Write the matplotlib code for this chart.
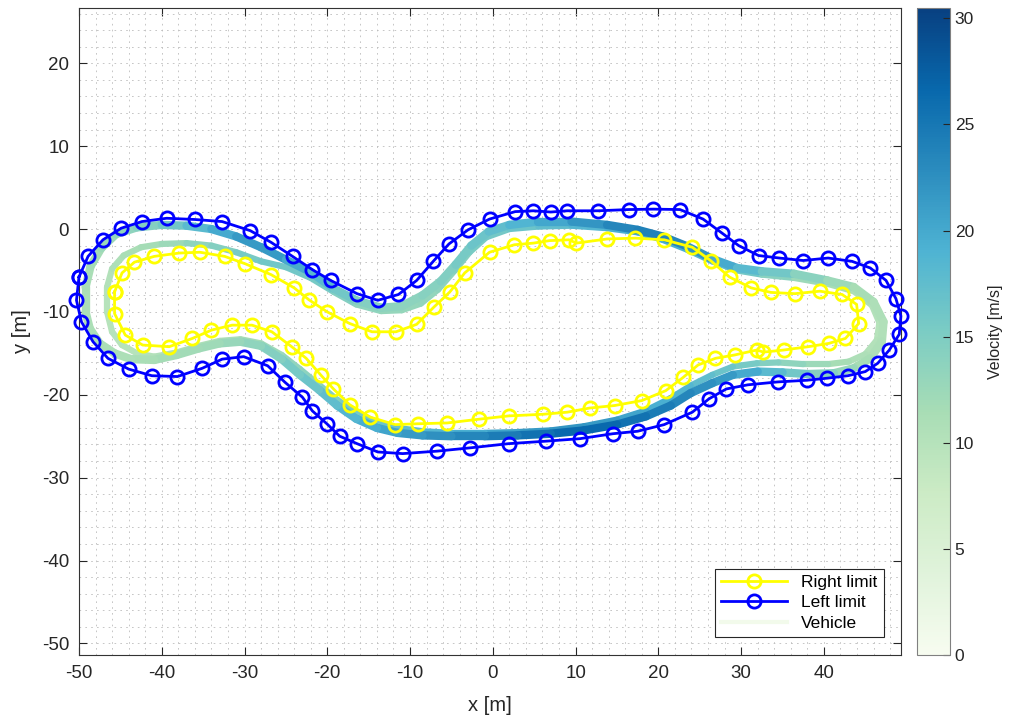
import numpy as np
import matplotlib
matplotlib.use('Agg')
import matplotlib.pyplot as plt
from matplotlib.collections import LineCollection
from matplotlib.lines import Line2D
from matplotlib.colors import Normalize
from matplotlib.cm import ScalarMappable

plt.rcParams['font.family'] = ['Liberation Sans', 'DejaVu Sans']
plt.rcParams['axes.unicode_minus'] = False

# track limits (circle markers), clockwise
left_x = [-50.0, -48.9, -47.1, -44.9, -42.4, -39.4, -36.0, -32.7, -29.3, -26.8,
          -24.2, -21.8, -19.6, -16.4, -13.9, -11.4, -9.2, -7.2, -5.3, -3.0,
          -0.4, 2.7, 4.9, 7.0, 9.0, 12.7, 16.4, 19.4, 22.6, 25.4,
          27.7, 29.7, 32.1, 34.6, 37.5, 40.5, 43.4, 45.6, 47.5, 48.7,
          49.3, 49.1, 47.9, 46.5, 45.0, 42.9, 40.4, 37.9, 34.4, 30.8,
          28.2, 26.1, 24.1, 20.7, 17.5, 14.5, 10.5, 6.4, 1.9, -2.7,
          -6.7, -10.9, -13.9, -16.4, -18.5, -20.05, -21.8, -23.0, -25.1, -27.2,
          -30.1, -32.7, -35.1, -38.1, -41.2, -44.0, -46.5, -48.3, -49.7, -50.3]
left_y = [-5.8, -3.3, -1.3, 0.1, 0.9, 1.3, 1.15, 0.9, -0.2, -1.6,
          -3.3, -4.9, -6.2, -7.8, -8.6, -7.9, -6.2, -3.9, -1.8, -0.1,
          1.2, 2.1, 2.2, 2.05, 2.2, 2.2, 2.35, 2.4, 2.35, 1.2,
          -0.5, -2.0, -3.2, -3.5, -3.8, -3.5, -3.9, -4.7, -6.2, -8.4,
          -10.5, -12.7, -14.6, -16.2, -17.2, -17.7, -18.0, -18.25, -18.45, -18.8,
          -19.3, -20.5, -22.1, -23.6, -24.4, -24.7, -25.3, -25.6, -25.9, -26.4,
          -26.8, -27.1, -26.9, -25.9, -25.0, -23.5, -21.95, -20.3, -18.5, -16.5,
          -15.4, -15.7, -16.8, -17.8, -17.7, -16.9, -15.6, -13.6, -11.2, -8.6]

right_x = [-45.7, -44.8, -43.3, -40.9, -37.9, -35.4, -32.4, -29.9, -26.8, -24.0,
           -22.2, -20.0, -17.3, -14.6, -11.7, -9.2, -7.1, -5.2, -3.4, -0.4,
           2.6, 4.9, 6.85, 9.2, 10.1, 13.8, 17.2, 20.7, 24.1, 26.3,
           28.6, 31.2, 33.6, 36.5, 39.5, 42.2, 43.95, 44.2, 42.6, 40.6,
           38.1, 35.15, 32.7, 31.9, 29.2, 26.9, 24.8, 23.0, 20.9, 18.0,
           14.7, 11.7, 9.0, 6.1, 1.9, -1.7, -5.5, -9.1, -11.8, -14.8,
           -17.3, -19.25, -20.8, -22.55, -24.3, -26.7, -29.1, -31.5, -34.0, -36.3,
           -39.1, -42.3, -44.4, -45.7]
right_y = [-7.6, -5.3, -4.0, -3.3, -2.9, -2.8, -3.3, -4.2, -5.5, -7.1,
           -8.55, -10.0, -11.4, -12.4, -12.4, -11.5, -9.4, -7.6, -5.3, -2.8,
           -1.9, -1.7, -1.4, -1.3, -1.7, -1.2, -1.1, -1.3, -2.2, -3.8,
           -5.8, -7.1, -7.65, -7.8, -7.5, -7.9, -9.1, -11.4, -13.2, -13.8,
           -14.2, -14.6, -14.85, -14.6, -15.2, -15.6, -16.4, -17.9, -19.5, -20.7,
           -21.3, -21.6, -22.1, -22.35, -22.55, -22.95, -23.4, -23.5, -23.6, -22.7,
           -21.2, -19.3, -17.6, -15.6, -14.2, -12.4, -11.6, -11.6, -12.2, -13.2,
           -14.2, -14.0, -12.8, -10.2]

# vehicle path, main racing line (most laps)
veh_a_x = [-49.2, -49.2, -48.6, -47.3, -45.5, -43.0, -40.0, -37.0, -34.0, -31.0,
           -28.0, -25.0, -22.0, -19.2, -16.5, -13.5, -11.0, -8.5, -6.3, -4.5,
           -2.6, -0.5, 2.0, 5.5, 9.5, 13.8, 17.5, 20.5, 23.5, 26.5,
           29.5, 32.5, 36.4, 40.4, 43.6, 46.0, 47.2, 47.0, 45.6, 43.6,
           41.2, 38.0, 35.0, 32.0, 29.0, 26.5, 23.9, 21.5, 18.5, 15.0,
           11.0, 7.0, 3.0, -1.0, -5.0, -8.5, -11.5, -14.0, -16.5, -18.8,
           -21.0, -23.3, -25.5, -28.0, -30.5, -33.0, -35.5, -38.2, -40.9, -43.7,
           -45.7, -47.5, -48.7, -49.2]
veh_a_y = [-10.0, -7.0, -4.5, -2.3, -0.6, 0.2, 0.5, 0.4, 0.0, -0.9,
           -2.2, -3.7, -5.2, -7.2, -8.6, -9.5, -9.3, -8.0, -6.3, -4.3,
           -2.0, -0.3, 0.5, 0.9, 0.9, 0.5, -0.1, -0.9, -2.1, -3.6,
           -4.7, -5.1, -5.4, -6.2, -7.0, -8.8, -11.2, -13.6, -15.6, -16.8,
           -17.4, -17.5, -17.3, -17.2, -17.6, -18.6, -19.8, -21.3, -22.6, -23.6,
           -24.3, -24.7, -24.9, -25.0, -25.0, -24.9, -24.6, -24.0, -22.9, -21.3,
           -19.4, -17.6, -15.7, -14.1, -13.6, -13.8, -14.4, -15.2, -15.8, -15.7,
           -15.0, -13.8, -12.0, -10.0]
veh_a_v = [11, 11, 11.5, 12, 13, 14, 15, 17, 19, 21,
           22, 21, 19, 17, 15, 14, 13.5, 14, 14.5, 15,
           16, 17, 18, 19.5, 21, 23, 24, 24, 23, 21,
           19, 17, 15, 13, 12, 11, 10.5, 10.5, 11, 12,
           13.5, 15, 17, 19, 21, 22, 23, 24, 25, 26,
           27, 26, 25, 24, 23, 22, 21, 20, 19, 18,
           17, 16, 15, 14, 13, 12.5, 12, 12, 11.5, 11,
           11, 11, 11, 11]

# vehicle path, tighter line (first laps)
veh_b_x = [-46.6, -46.6, -46.0, -44.6, -42.5, -40.0, -37.0, -34.0, -31.0, -28.0,
           -25.0, -22.0, -19.2, -16.5, -13.5, -11.0, -8.7, -6.6, -4.6, -2.8,
           -0.8, 2.0, 5.5, 9.5, 13.8, 17.5, 20.5, 23.5, 26.5, 29.5,
           32.5, 36.4, 40.4, 43.6, 45.8, 46.7, 46.4, 45.0, 43.0, 40.5,
           37.5, 34.5, 31.9, 29.0, 26.5, 23.9, 21.5, 18.5, 15.0, 11.0,
           7.0, 3.0, -1.0, -5.0, -8.5, -11.5, -14.0, -16.5, -18.8, -21.0,
           -23.3, -25.5, -28.0, -30.5, -33.0, -35.5, -38.2, -40.9, -43.0, -44.8,
           -46.0, -46.6]
veh_b_y = [-10.0, -7.0, -4.8, -3.2, -2.2, -1.8, -1.7, -2.0, -2.8, -3.9,
           -4.6, -5.9, -7.6, -9.1, -9.9, -9.8, -9.0, -7.3, -5.0, -2.8,
           -1.0, 0.0, 0.3, 0.4, 0.1, -0.4, -1.3, -2.5, -3.9, -5.0,
           -5.5, -5.9, -6.6, -7.5, -9.2, -11.3, -13.4, -15.1, -16.0, -16.3,
           -16.3, -16.1, -16.2, -16.6, -17.6, -18.9, -20.4, -21.9, -23.0, -23.8,
           -24.3, -24.5, -24.6, -24.6, -24.4, -24.0, -23.3, -22.2, -20.6, -18.8,
           -16.9, -15.2, -13.8, -13.3, -13.5, -14.1, -14.9, -15.4, -15.0, -14.0,
           -12.4, -10.0]
veh_b_v = [10, 10, 10.5, 11, 11.5, 12, 13, 14, 15, 16,
           16, 16, 15, 14, 13, 13, 13, 13.5, 14, 15,
           15.5, 16, 17, 18, 19, 20, 20, 19, 18, 17,
           15, 13, 12, 11, 10.5, 10, 10, 10.5, 11, 12,
           13, 14, 15, 16, 17, 18, 19, 20, 21, 22,
           22, 21, 20, 19, 18, 17, 16, 15.5, 15, 14,
           13.5, 13, 12, 11.5, 11, 11, 10.5, 10.5, 10, 10,
           10, 10]

V_MAX = 30.5
cmap = plt.get_cmap('GnBu')
norm = Normalize(0, V_MAX)


def vehicle_segments(xs, ys, vs):
    pts = np.column_stack([xs, ys])
    segs = np.stack([pts[:-1], pts[1:]], axis=1)
    vals = 0.5 * (np.array(vs[:-1]) + np.array(vs[1:]))
    return segs, vals


fig = plt.figure(figsize=(10.11, 7.24), dpi=100)
ax = fig.add_axes([0.0781, 0.0953, 0.813, 0.894])
cax = fig.add_axes([0.907, 0.0953, 0.0326, 0.894])

for xs, ys, vs, lw in [(veh_b_x, veh_b_y, veh_b_v, 4.5),
                       (veh_a_x, veh_a_y, veh_a_v, 6.0)]:
    segs, vals = vehicle_segments(xs, ys, vs)
    lc = LineCollection(segs, cmap=cmap, norm=norm, linewidths=lw,
                        capstyle='round', joinstyle='round', zorder=2)
    lc.set_array(vals)
    ax.add_collection(lc)

lim_style = dict(lw=2.0, marker='o', ms=9.5, mfc='none', mew=2.0)
ax.plot(right_x + right_x[:1], right_y + right_y[:1], color='#ffff00',
        zorder=3, clip_on=False, **lim_style)
ax.plot(left_x + left_x[:1], left_y + left_y[:1], color='#0000ff',
        zorder=3, clip_on=False, **lim_style)

ax.set_xlim(-50, 49.3)
ax.set_ylim(-51.4, 26.7)
ax.set_xticks(np.arange(-50, 41, 10))
ax.set_yticks(np.arange(-50, 21, 10))
ax.set_xticks(np.arange(-50, 50, 2), minor=True)
ax.set_yticks(np.arange(-50, 27, 2), minor=True)
ax.grid(which='both', color='#bdbdbd', linestyle=(0, (2, 5)), linewidth=0.6)
ax.set_axisbelow(True)
ax.tick_params(which='major', direction='in', top=True, right=True, length=6,
               width=0.8, labelsize=13.5, colors='#262626', pad=7)
ax.tick_params(which='minor', length=0)
for s in ax.spines.values():
    s.set_color('#333333')
    s.set_linewidth(0.8)
ax.set_xlabel('x [m]', fontsize=14.5, color='#262626', labelpad=10)
ax.set_ylabel('y [m]', fontsize=14.5, color='#262626', labelpad=8)

handles = [
    Line2D([], [], color='#ffff00', **lim_style),
    Line2D([], [], color='#0000ff', **lim_style),
    Line2D([], [], color=cmap(0.03), lw=3),
]
leg = ax.legend(handles, ['Right limit', 'Left limit', 'Vehicle'],
                loc='lower right', bbox_to_anchor=(0.979, 0.028), borderaxespad=0,
                fontsize=12.5, fancybox=False, framealpha=1, edgecolor='#262626',
                handlelength=3.8, labelspacing=0.3, borderpad=0.35)
leg.get_frame().set_linewidth(0.8)

cb = fig.colorbar(ScalarMappable(norm=norm, cmap=cmap), cax=cax)
cb.set_ticks([0, 5, 10, 15, 20, 25, 30])
cb.ax.tick_params(labelsize=12.5, colors='#262626', length=5, direction='in')
cb.outline.set_edgecolor('#808080')
cb.set_label('Velocity [m/s]', fontsize=11.5, color='#262626', labelpad=10)

fig.savefig('out.png', dpi=100)
